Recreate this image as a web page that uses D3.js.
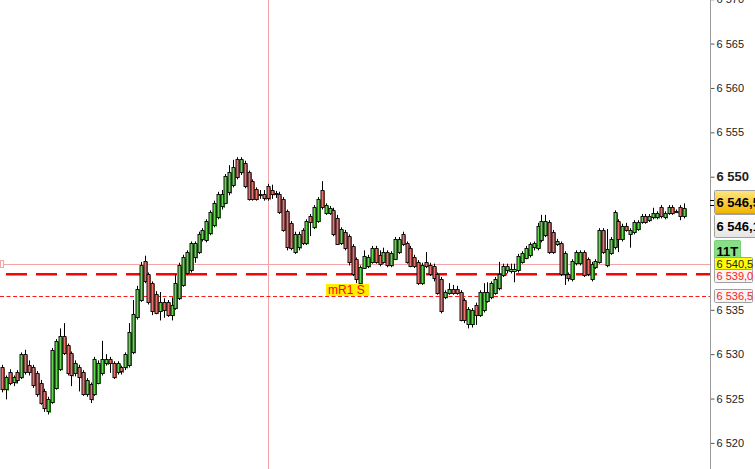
<!DOCTYPE html>
<html><head><meta charset="utf-8">
<script src="https://cdn.jsdelivr.net/npm/d3@7"></script>
<style>html,body{margin:0;padding:0;background:#fff;overflow:hidden}svg{display:block}</style>
</head><body>
<svg id="c" width="755" height="469"></svg>
<script>
const opens=[6528.5,6526.0,6528.0,6526.8,6528.0,6527.4,6530.0,6528.8,6528.5,6527.9,6526.8,6525.8,6523.5,6524.6,6526.2,6528.3,6532.0,6531.0,6530.1,6527.9,6528.5,6528.0,6525.5,6526.6,6525.5,6526.8,6527.9,6528.9,6529.4,6529.0,6528.0,6528.5,6528.5,6528.8,6530.2,6534.2,6536.1,6540.5,6539.0,6538.0,6536.8,6534.9,6535.9,6535.9,6534.4,6535.2,6536.3,6537.8,6539.1,6539.5,6540.9,6541.5,6543.0,6542.9,6543.6,6544.5,6545.4,6546.6,6547.1,6548.2,6549.1,6552.0,6550.5,6551.5,6550.5,6549.5,6548.6,6548.0,6548.0,6548.9,6548.5,6548.2,6548.0,6547.5,6546.1,6544.8,6541.5,6542.0,6544.0,6542.5,6545.6,6544.3,6545.0,6548.5,6545.9,6545.9,6546.2,6545.4,6542.5,6543.8,6543.3,6542.2,6540.7,6538.0,6539.8,6539.9,6540.4,6542.0,6541.2,6540.4,6541.5,6540.0,6540.8,6541.5,6543.5,6542.5,6542.0,6540.9,6540.4,6538.0,6540.4,6540.0,6539.9,6539.0,6538.5,6536.4,6536.9,6537.4,6537.4,6537.0,6536.1,6533.4,6533.4,6535.5,6534.4,6535.0,6536.0,6536.4,6536.9,6537.4,6538.9,6539.4,6539.4,6539.4,6539.5,6540.4,6540.9,6541.2,6542.0,6542.0,6542.9,6543.4,6544.9,6543.8,6542.4,6542.5,6539.0,6539.0,6538.5,6540.3,6540.3,6541.5,6540.7,6538.5,6539.8,6540.4,6544.0,6540.0,6541.4,6542.1,6545.0,6543.0,6544.5,6543.6,6543.8,6544.1,6544.9,6545.6,6545.1,6545.4,6545.4,6546.6,6545.4,6545.9,6546.6,6546.1,6546.6,6545.6];
const highs=[6528.8,6527.6,6528.3,6527.6,6528.2,6530.2,6530.5,6529.3,6528.8,6528.1,6527.1,6526.1,6525.2,6530.7,6531.7,6532.9,6533.5,6531.2,6530.3,6529.3,6528.8,6528.2,6527.3,6526.8,6529.7,6529.3,6531.5,6530.0,6529.7,6529.2,6529.2,6528.7,6530.2,6533.5,6536.1,6537.7,6540.4,6541.1,6539.2,6538.2,6537.1,6537.0,6536.3,6536.1,6536.4,6539.0,6540.3,6541.2,6541.7,6542.7,6542.7,6543.8,6544.2,6545.2,6546.2,6547.3,6548.3,6548.5,6550.3,6551.3,6551.9,6552.2,6552.2,6551.8,6550.7,6549.7,6548.8,6548.5,6548.5,6549.2,6549.1,6548.4,6548.3,6547.7,6546.3,6545.0,6543.8,6543.8,6544.2,6545.2,6545.8,6546.8,6547.7,6549.5,6547.0,6546.7,6546.5,6545.7,6544.3,6544.0,6543.5,6542.4,6540.9,6540.0,6541.7,6541.2,6542.2,6542.2,6541.7,6542.0,6541.7,6541.6,6543.2,6543.2,6543.8,6542.7,6542.2,6541.2,6540.6,6540.3,6541.5,6540.3,6540.2,6539.2,6538.7,6537.2,6538.0,6537.8,6537.7,6537.2,6536.3,6535.3,6535.2,6535.8,6537.2,6538.0,6538.1,6538.2,6538.7,6540.4,6540.2,6540.2,6540.2,6540.2,6541.3,6541.6,6542.2,6542.6,6542.7,6544.8,6545.7,6545.7,6545.1,6544.0,6543.0,6542.7,6541.6,6539.2,6540.7,6541.7,6541.7,6541.7,6540.9,6540.4,6540.7,6544.2,6544.2,6544.1,6543.2,6546.2,6545.2,6544.7,6544.8,6544.2,6545.1,6545.1,6545.8,6545.8,6545.8,6546.5,6546.1,6546.8,6546.1,6546.8,6546.8,6546.3,6546.8,6547.0];
const lows=[6525.7,6524.9,6526.5,6526.4,6526.7,6527.2,6527.7,6527.6,6526.2,6525.2,6524.3,6523.5,6523.2,6524.4,6526.0,6528.1,6529.9,6527.6,6526.4,6527.5,6525.8,6525.3,6525.2,6524.5,6525.3,6526.6,6527.6,6528.7,6527.9,6527.2,6527.7,6527.7,6528.2,6528.5,6530.0,6533.9,6535.9,6538.0,6535.6,6534.4,6534.5,6533.8,6534.1,6534.2,6533.8,6535.0,6536.1,6537.6,6538.9,6539.2,6540.3,6541.3,6542.7,6542.6,6543.4,6544.3,6545.2,6546.3,6546.9,6547.9,6548.8,6549.7,6550.2,6548.7,6547.3,6547.3,6547.3,6547.5,6547.3,6547.3,6547.5,6547.6,6545.8,6543.8,6541.7,6541.7,6541.3,6541.7,6542.3,6542.3,6543.3,6544.1,6544.8,6546.3,6545.7,6545.7,6543.3,6542.3,6542.3,6541.7,6540.0,6538.8,6538.0,6537.7,6539.6,6539.7,6540.2,6540.2,6539.9,6540.2,6539.8,6539.8,6540.6,6541.3,6542.2,6540.2,6539.8,6539.7,6537.8,6537.8,6539.7,6538.8,6538.2,6536.7,6534.6,6536.2,6536.7,6536.7,6536.7,6533.7,6533.5,6532.9,6533.0,6533.3,6534.2,6534.7,6535.8,6536.2,6536.7,6537.2,6538.7,6539.1,6539.1,6538.1,6539.2,6540.2,6540.7,6540.9,6541.7,6541.7,6542.6,6543.2,6541.3,6541.3,6542.2,6538.8,6537.8,6538.2,6538.2,6540.0,6540.0,6538.7,6538.8,6538.2,6539.6,6540.2,6541.3,6539.8,6541.2,6541.8,6541.5,6542.7,6543.8,6542.0,6543.5,6543.9,6544.7,6544.7,6544.9,6545.2,6545.2,6545.3,6545.2,6545.7,6545.7,6545.9,6545.1,6545.3];
const closes=[6526.0,6527.4,6526.8,6527.4,6527.1,6530.0,6528.0,6528.0,6526.5,6525.5,6524.5,6523.9,6524.9,6530.5,6531.5,6532.0,6530.1,6527.9,6527.6,6529.0,6527.4,6525.5,6527.1,6524.9,6529.4,6529.0,6529.5,6529.4,6529.0,6527.4,6529.0,6528.0,6530.0,6532.5,6534.5,6537.4,6540.0,6538.3,6535.9,6534.9,6534.7,6535.9,6535.0,6534.4,6535.5,6538.0,6540.0,6540.9,6541.5,6542.5,6542.5,6543.5,6544.0,6545.0,6546.0,6547.0,6548.0,6548.0,6550.1,6550.5,6551.1,6550.0,6552.0,6548.9,6547.5,6547.5,6547.5,6548.0,6547.5,6547.5,6548.0,6548.2,6546.0,6544.0,6542.0,6542.0,6543.5,6543.5,6542.5,6545.0,6544.9,6546.6,6547.5,6546.6,6546.8,6546.5,6543.5,6542.5,6544.1,6542.0,6540.4,6539.0,6538.5,6539.8,6541.1,6540.9,6542.0,6540.4,6540.2,6541.5,6540.0,6541.4,6543.0,6543.0,6542.4,6540.4,6540.0,6539.9,6538.0,6540.0,6539.9,6539.0,6538.5,6536.9,6534.9,6537.0,6537.4,6536.9,6536.9,6533.9,6533.9,6535.1,6535.0,6534.4,6537.0,6537.0,6537.0,6538.0,6538.5,6539.0,6539.9,6539.9,6539.6,6539.6,6541.1,6541.4,6542.0,6542.4,6542.5,6544.5,6545.0,6545.0,6541.5,6541.5,6542.7,6539.0,6541.4,6538.5,6540.5,6541.5,6541.5,6538.9,6539.0,6540.2,6540.5,6544.0,6541.5,6541.8,6543.0,6546.0,6543.0,6544.5,6544.0,6544.0,6544.9,6544.9,6545.6,6544.9,6545.6,6545.9,6545.9,6545.6,6545.9,6546.6,6545.9,6546.1,6545.6,6546.5];

const tickValues=[6520,6525,6530,6535,6550,6555,6560,6565,6570];
const tickLabels=["6 520","6 525","6 530","6 535","6 550","6 555","6 560","6 565","6 570"];
const boldTick=6550;
const bidLine=6540.2;        // thin pink line
const r1Level=6539.0;        // thick dashed red
const s1Level=6536.5;        // thin dotted red
const cursorIndex=69;        // vertical pink cursor
const r1Label="mR1 S";
const priceTags=[
  {v:6546.5,t:"6 546,5",kind:"last"},
  {v:6546.1,t:"6 546,1",kind:"avg"},
  {v:6543.6,t:"11T",kind:"count"},
  {v:6540.5,t:"6 540,5",kind:"bid"},
  {v:6539.0,t:"6 539,0",kind:"red"},
  {v:6536.5,t:"6 536,5",kind:"red"}
];

const W=755,H=469,axisX=710;
const svg=d3.select("#c");
const n=closes.length;
const x=d3.scaleLinear().domain([0,n-1]).range([2,684]);
const y=d3.scaleLinear().domain([6520,6550]).range([442.9,176.7]);
const font="'Liberation Sans', Arial, sans-serif";

const defs=svg.append("defs");
const g1=defs.append("linearGradient").attr("id","gLast").attr("x1",0).attr("y1",0).attr("x2",0).attr("y2",1);
g1.append("stop").attr("offset","0%").attr("stop-color","#ffe680");
g1.append("stop").attr("offset","100%").attr("stop-color","#f2b400");
const g2=defs.append("linearGradient").attr("id","gAvg").attr("x1",0).attr("y1",0).attr("x2",0).attr("y2",1);
g2.append("stop").attr("offset","0%").attr("stop-color","#ffffff");
g2.append("stop").attr("offset","100%").attr("stop-color","#e4e4e4");

const plot=svg.append("g");
plot.append("line").attr("x1",Math.round(x(cursorIndex))+0.5).attr("x2",Math.round(x(cursorIndex))+0.5)
  .attr("y1",0).attr("y2",H).attr("stroke","#f4a4a4").attr("stroke-width",1);
plot.append("line").attr("x1",0).attr("x2",axisX).attr("y1",Math.round(y(bidLine))+0.5).attr("y2",Math.round(y(bidLine))+0.5)
  .attr("stroke","#f4a4a4").attr("stroke-width",1);
plot.append("rect").attr("x",0.5).attr("y",Math.round(y(bidLine))-3.5).attr("width",3).attr("height",7)
  .attr("fill","#fff").attr("stroke","#f4a4a4");
plot.append("line").attr("x1",0).attr("x2",axisX).attr("y1",Math.round(y(s1Level))+0.5).attr("y2",Math.round(y(s1Level))+0.5)
  .attr("stroke","#ff1a1a").attr("stroke-width",1).attr("stroke-dasharray","4,2.5");
plot.append("line").attr("x1",6).attr("x2",axisX).attr("y1",y(r1Level)).attr("y2",y(r1Level))
  .attr("stroke","#ff0000").attr("stroke-width",2.6).attr("stroke-dasharray","21,9");

const idx=d3.range(n);
const cg=plot.append("g");
cg.selectAll("line.w").data(idx).join("line").attr("class","w")
  .attr("x1",i=>Math.round(x(i))+0.5).attr("x2",i=>Math.round(x(i))+0.5)
  .attr("y1",i=>y(highs[i])).attr("y2",i=>y(lows[i]))
  .attr("stroke","#000").attr("stroke-width",1);
const up=i=>closes[i]>=opens[i];
cg.selectAll("rect.s").data(idx).join("rect").attr("class","s")
  .attr("x",i=>Math.round(x(i))+1.5).attr("width",1.5)
  .attr("y",i=>y(Math.max(opens[i],closes[i]))+1)
  .attr("height",i=>Math.max(1,Math.abs(y(opens[i])-y(closes[i]))))
  .attr("fill",i=>up(i)?"#2d8a1e":"#b8603c");
cg.selectAll("rect.b").data(idx).join("rect").attr("class","b")
  .attr("x",i=>Math.round(x(i))-1).attr("width",3)
  .attr("y",i=>Math.round(y(Math.max(opens[i],closes[i])))+0.5)
  .attr("height",i=>Math.max(1,Math.round(Math.abs(y(opens[i])-y(closes[i])))))
  .attr("fill",i=>up(i)?"#62d84e":"#ec7272")
  .attr("stroke","#111").attr("stroke-width",1);

const lx=326, ly=Math.round(y(r1Level))+10;
plot.append("rect").attr("x",lx).attr("y",ly).attr("width",43).attr("height",12).attr("fill","#ffee00");
plot.append("text").attr("x",lx+2).attr("y",ly+10).attr("fill","#ff0000").attr("font-family",font)
  .attr("font-size",12).text(r1Label);

const axis=d3.axisRight(y).tickValues(tickValues).tickSize(4).tickPadding(2)
  .tickFormat((d,i)=>tickLabels[i]);
const ag=svg.append("g").attr("transform",`translate(${axisX+0.5},0)`).call(axis);
ag.select(".domain").remove();
ag.append("line").attr("x1",0).attr("x2",0).attr("y1",0).attr("y2",H).attr("stroke","#9a9a9a");
ag.selectAll(".tick line").attr("stroke","#555");
ag.selectAll(".tick text").attr("font-family",font).attr("fill","#222")
  .attr("font-weight",d=>d===boldTick?"bold":"normal").attr("font-size",d=>d===boldTick?13:11);

[6547.4,6546.85].forEach(v=>{
  svg.append("line").attr("x1",axisX).attr("x2",axisX+6).attr("y1",Math.round(y(v))+0.5).attr("y2",Math.round(y(v))+0.5).attr("stroke","#000");
});

const tagG=svg.append("g");
const tagLayout={last:{dy:-6,h:23,w:50,fill:"url(#gLast)",fs:13,fw:"bold",col:"#000"},
  avg:{dy:14,h:23,w:50,fill:"url(#gAvg)",fs:13,fw:"bold",col:"#000"},
  count:{dy:0,h:22,w:26,fill:"#86e086",fs:13,fw:"bold",col:"#000"},
  bid:{dy:2.5,h:13,w:38,fill:"#ffff00",fs:11,fw:"normal",col:"#222"},
  red:{dy:1.5,h:13,w:38,fill:"#f8f4f4",fs:11,fw:"normal",col:"#ff2020"}};
priceTags.forEach((p,i)=>{
  const L=tagLayout[p.kind];
  let cy=y(p.v)+L.dy;
  if(p.kind==="count") cy=251;
  if(i===5) cy=y(p.v)-0.5;
  const top=Math.round(cy-L.h/2)+0.5;
  tagG.append("rect").attr("x",714.5).attr("y",top).attr("width",L.w).attr("height",L.h)
    .attr("fill",L.fill).attr("stroke",p.kind==="count"?"#7bcf7b":"#a0a0a0").attr("rx",1);
  tagG.append("text").attr("x",716.5).attr("y",top+L.h/2).attr("dy","0.36em").attr("font-family",font)
    .attr("font-size",L.fs).attr("font-weight",L.fw).attr("fill",L.col).text(p.t);
});
</script>
</body></html>
